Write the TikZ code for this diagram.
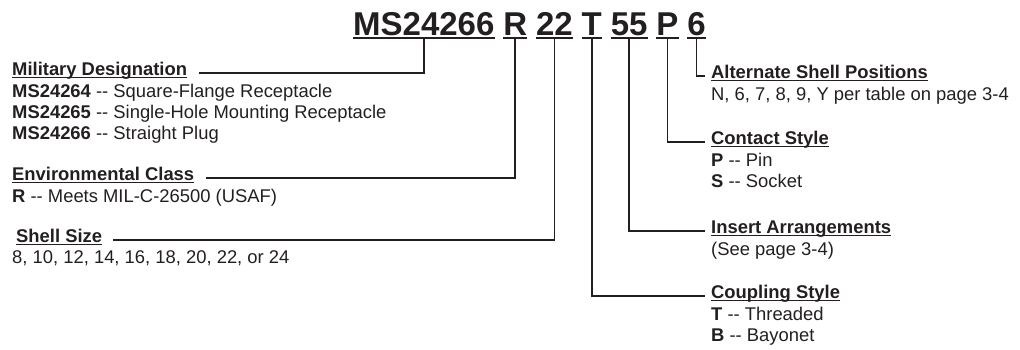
\documentclass[tikz,border=0pt]{standalone}
\usepackage{fontspec}
\setmainfont{Liberation Sans}[Ligatures=TeXOff]
\usetikzlibrary{positioning}
\definecolor{ink}{HTML}{231F20}

\begin{document}
\begin{tikzpicture}[x=1pt, y=-1pt,
  partno/.style={font=\fontsize{33}{40}\selectfont\bfseries, inner sep=0pt, text=ink},
  head/.style={font=\fontsize{18.4}{21.3}\selectfont\bfseries, inner sep=0pt, anchor=mid west, text=ink},
  body/.style={font=\fontsize{18.4}{21.3}\selectfont, inner sep=0pt, anchor=north west, align=left, text=ink},
  lead/.style={draw=ink, line width=1.6pt},
  uline/.style={draw=ink, line width=1.2pt}]
\useasboundingbox (0,0) rectangle (1020,349);

% part number, one node per field
\node[partno, anchor=base west] (tMS) at (353,35) {MS24266};
\node[partno, base right=8.5pt of tMS] (tR) {R};
\node[partno, base right=8.5pt of tR] (t22) {22};
\node[partno, base right=8.5pt of t22] (tT) {T};
\node[partno, base right=8.5pt of tT] (t55) {55};
\node[partno, base right=8.5pt of t55] (tP) {P};
\node[partno, base right=8.5pt of tP] (t6) {6};
\foreach \t in {tMS,tR,t22,tT,t55,tP,t6}
  \draw[uline, line width=1.8pt] ([yshift=-3pt]\t.base west) -- ([yshift=-3pt]\t.base east);

% left column
\node[head] (mil) at (12,73) {Military Designation};
\node[body] (milb) at ([yshift=-8pt]mil.base west)
  {\textbf{MS24264} -- Square-Flange Receptacle\\
   \textbf{MS24265} -- Single-Hole Mounting Receptacle\\
   \textbf{MS24266} -- Straight Plug};
\node[head] (env) at (12,178) {Environmental Class};
\node[body] (envb) at ([yshift=-8pt]env.base west)
  {\textbf{R} -- Meets MIL-C-26500 (USAF)};
\node[head] (shell) at (16,240) {Shell Size};
\node[body] (shellb) at ([shift={(-4pt,-8pt)}]shell.base west)
  {8, 10, 12, 14, 16, 18, 20, 22, or 24};

% right column
\node[head] (alt) at (711,76) {Alternate Shell Positions};
\node[body] (altb) at ([yshift=-8pt]alt.base west)
  {N, 6, 7, 8, 9, Y per table on page 3-4};
\node[head] (cont) at (711,142) {Contact Style};
\node[body] (contb) at ([yshift=-8pt]cont.base west)
  {\textbf{P} -- Pin\\ \textbf{S} -- Socket};
\node[head] (ins) at (711,231) {Insert Arrangements};
\node[body] (insb) at ([yshift=-8pt]ins.base west)
  {(See page 3-4)};
\node[head] (coup) at (711,296) {Coupling Style};
\node[body] (coupb) at ([yshift=-8pt]coup.base west)
  {\textbf{T} -- Threaded\\ \textbf{B} -- Bayonet};

\foreach \h in {mil,env,shell,alt,cont,ins,coup}
  \draw[uline] ([yshift=-2pt]\h.base west) -- ([yshift=-2pt]\h.base east);

% leaders from each field to its heading
\draw[lead] ([yshift=-3pt]tMS.south) |- ([xshift=12pt]mil.mid east);
\draw[lead] ([yshift=-3pt]tR.south) |- ([xshift=12pt]env.mid east);
\draw[lead] ([yshift=-3pt]t22.south) |- ([xshift=11pt]shell.mid east);
\draw[lead] ([yshift=-3pt]tT.south) |- ([xshift=-6pt]coup.mid west);
\draw[lead] ([yshift=-3pt]t55.south) |- ([xshift=-6pt]ins.mid west);
\draw[lead] ([yshift=-3pt]tP.south) |- ([xshift=-6pt]cont.mid west);
\draw[lead] ([yshift=-3pt]t6.south) |- ([xshift=-6pt]alt.mid west);
\end{tikzpicture}
\end{document}
